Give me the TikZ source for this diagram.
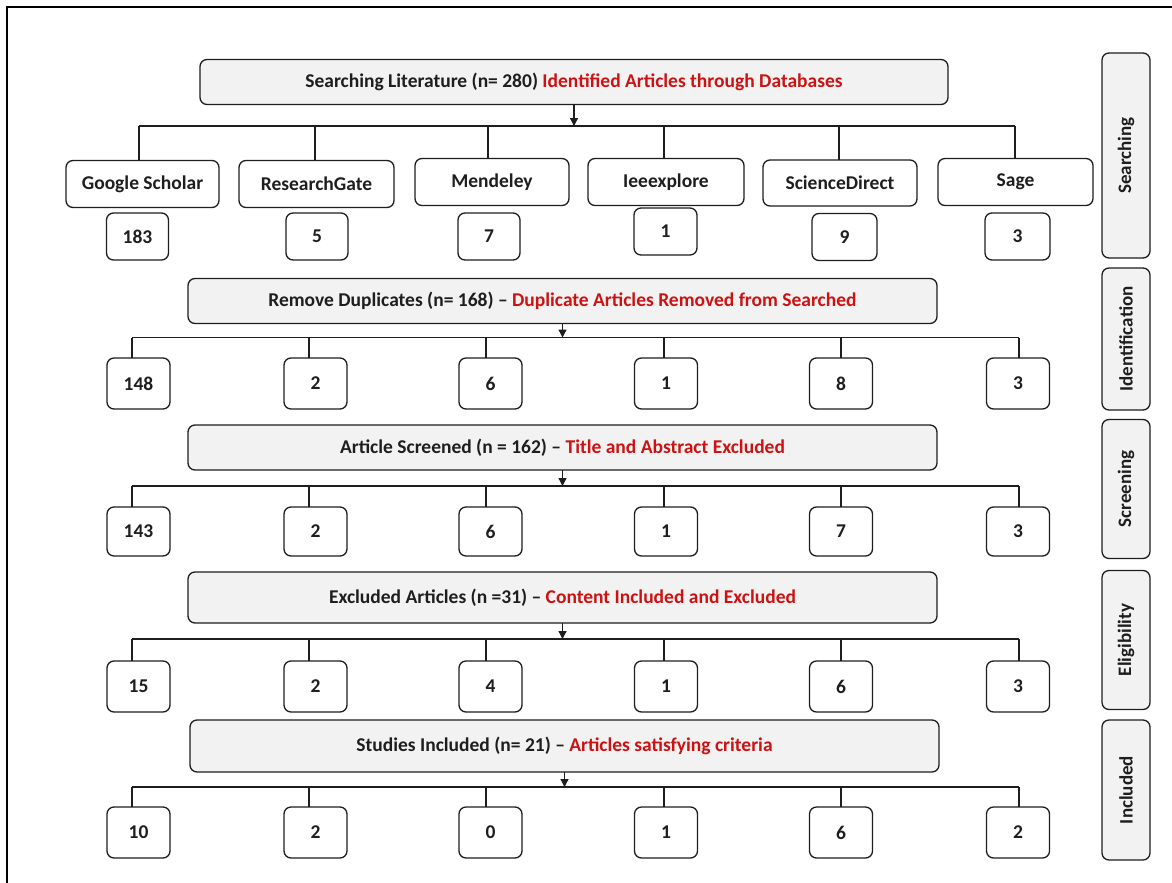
\documentclass[tikz,border=0pt]{standalone}
\usepackage{fontspec}
\setmainfont{Carlito}
\usetikzlibrary{arrows.meta}
\definecolor{txtred}{RGB}{204,18,18}
\definecolor{panel}{RGB}{242,242,242}
\definecolor{ink}{RGB}{30,30,30}
\begin{document}
\begin{tikzpicture}[x=1pt,y=-1pt,
  every node/.style={inner sep=0pt, outer sep=0pt, text=ink},
  stage/.style={draw=ink, line width=1.3pt, rounded corners=7pt, fill=panel, minimum width=749pt, font=\fontsize{19.5}{22}\selectfont\bfseries},
  db/.style={draw=ink, line width=1.3pt, rounded corners=7pt, fill=white, minimum height=47pt, font=\fontsize{19.5}{22}\selectfont\bfseries},
  num/.style={draw=ink, line width=1.3pt, rounded corners=7pt, fill=white, minimum width=63pt, font=\fontsize{19.5}{22}\selectfont\bfseries},
  side/.style={draw=ink, line width=1.3pt, rounded corners=7pt, fill=panel, minimum height=48pt, rotate=90, font=\fontsize{19}{22}\selectfont\bfseries},
  link/.style={draw=ink, line width=1.3pt},
  arr/.style={draw=ink, line width=1.3pt, -{Triangle[width=8pt,length=8pt]}},
  frame/.style={draw=black, line width=1.8pt}
]
\useasboundingbox (0,0) rectangle (1172,883);
\draw[frame] (7,883) -- (7,7) -- (1172,7);

% ---------- stage 1
\node[stage, minimum width=748pt, minimum height=45pt] (s1) at (574,82) {Searching Literature (n= 280) {\color{txtred}Identified Articles through Databases}};
\node[db, minimum width=153pt] (d1) at (142.5,184) {Google Scholar};
\node[db, minimum width=155pt] (d2) at (316.5,184) {ResearchGate};
\node[db, minimum width=154pt] (d3) at (492,182) {Mendeley};
\node[db, minimum width=156pt] (d4) at (666,182) {Ieeexplore};
\node[db, minimum width=154pt, minimum height=46pt] (d5) at (840,183) {ScienceDirect};
\node[db, minimum width=155pt] (d6) at (1015.5,182) {Sage};
\node[num, minimum width=62pt, minimum height=47pt] (n11) at (137.5,236.5) {183};
\node[num, minimum width=62pt, minimum height=47pt] (n12) at (317,236.5) {5};
\node[num, minimum width=62pt, minimum height=47pt] (n13) at (489,236.5) {7};
\node[num, minimum width=63pt, minimum height=47pt] (n14) at (665.5,231.5) {1};
\node[num, minimum width=65pt, minimum height=47pt] (n15) at (844.5,237) {9};
\node[num, minimum width=65pt, minimum height=47pt] (n16) at (1017.5,236.5) {3};

\coordinate (j1) at (574,126);
\coordinate (c11) at (139,126);
\coordinate (c12) at (315,126);
\coordinate (c13) at (488,126);
\coordinate (c14) at (664,126);
\coordinate (c15) at (839,126);
\coordinate (c16) at (1015,126);
\draw[link] (c11) -- (c16);
\foreach \k in {1,...,6} {\draw[link] (c1\k) -- (c1\k |- d\k.north);}
\draw[arr] (s1.south -| j1) -- (j1);

% ---------- stages 2-5
\node[stage, minimum height=45pt] (s2) at (562.5,301) {Remove Duplicates (n= 168) -- {\color{txtred}Duplicate Articles Removed from Searched}};
\node[stage, minimum height=45pt] (s3) at (562.5,447.5) {Article Screened (n = 162) -- {\color{txtred}Title and Abstract Excluded}};
\node[stage, minimum height=51pt] (s4) at (562.5,597.5) {Excluded Articles (n =31) -- {\color{txtred}Content Included and Excluded}};
\node[stage, minimum height=52pt] (s5) at (564.5,746) {Studies Included (n= 21) -- {\color{txtred}Articles satisfying criteria}};

\foreach \r/\y/\cy/\h/\a/\b/\c/\d/\e/\f in {
  2/337.5/383.5/51/148/2/6/1/8/3,
  3/486/531.5/49/143/2/6/1/7/3,
  4/639/686.5/51/15/2/4/1/6/3,
  5/787/832.5/51/10/2/0/1/6/2} {
  \node[num, minimum height=\h pt] (n\r1) at (138.5,\cy) {\a};
  \node[num, minimum height=\h pt] (n\r2) at (315.5,\cy) {\b};
  \node[num, minimum height=\h pt] (n\r3) at (490.5,\cy) {\c};
  \node[num, minimum height=\h pt] (n\r4) at (666,\cy) {\d};
  \node[num, minimum height=\h pt] (n\r5) at (841,\cy) {\e};
  \node[num, minimum height=\h pt] (n\r6) at (1018,\cy) {\f};
  \coordinate (c\r1) at (132,\y);
  \coordinate (c\r2) at (309,\y);
  \coordinate (c\r3) at (486,\y);
  \coordinate (c\r4) at (664,\y);
  \coordinate (c\r5) at (841,\y);
  \coordinate (c\r6) at (1019,\y);
  \draw[link] (c\r1) -- (c\r6);
  \foreach \k in {1,...,6} {\draw[link] (c\r\k) -- (c\r\k |- n\r\k.north);}
  \draw[arr] (s\r.south) -- (s\r.south |- c\r1);
}

% ---------- side labels
\node[side, minimum width=205pt] (p1) at (1126,155.5) {Searching};
\node[side, minimum width=142pt] (p2) at (1126,339) {Identification};
\node[side, minimum width=139pt] (p3) at (1126,489) {Screening};
\node[side, minimum width=139pt] (p4) at (1126,640) {Eligibility};
\node[side, minimum width=140pt] (p5) at (1126,790) {Included};
\end{tikzpicture}
\end{document}
